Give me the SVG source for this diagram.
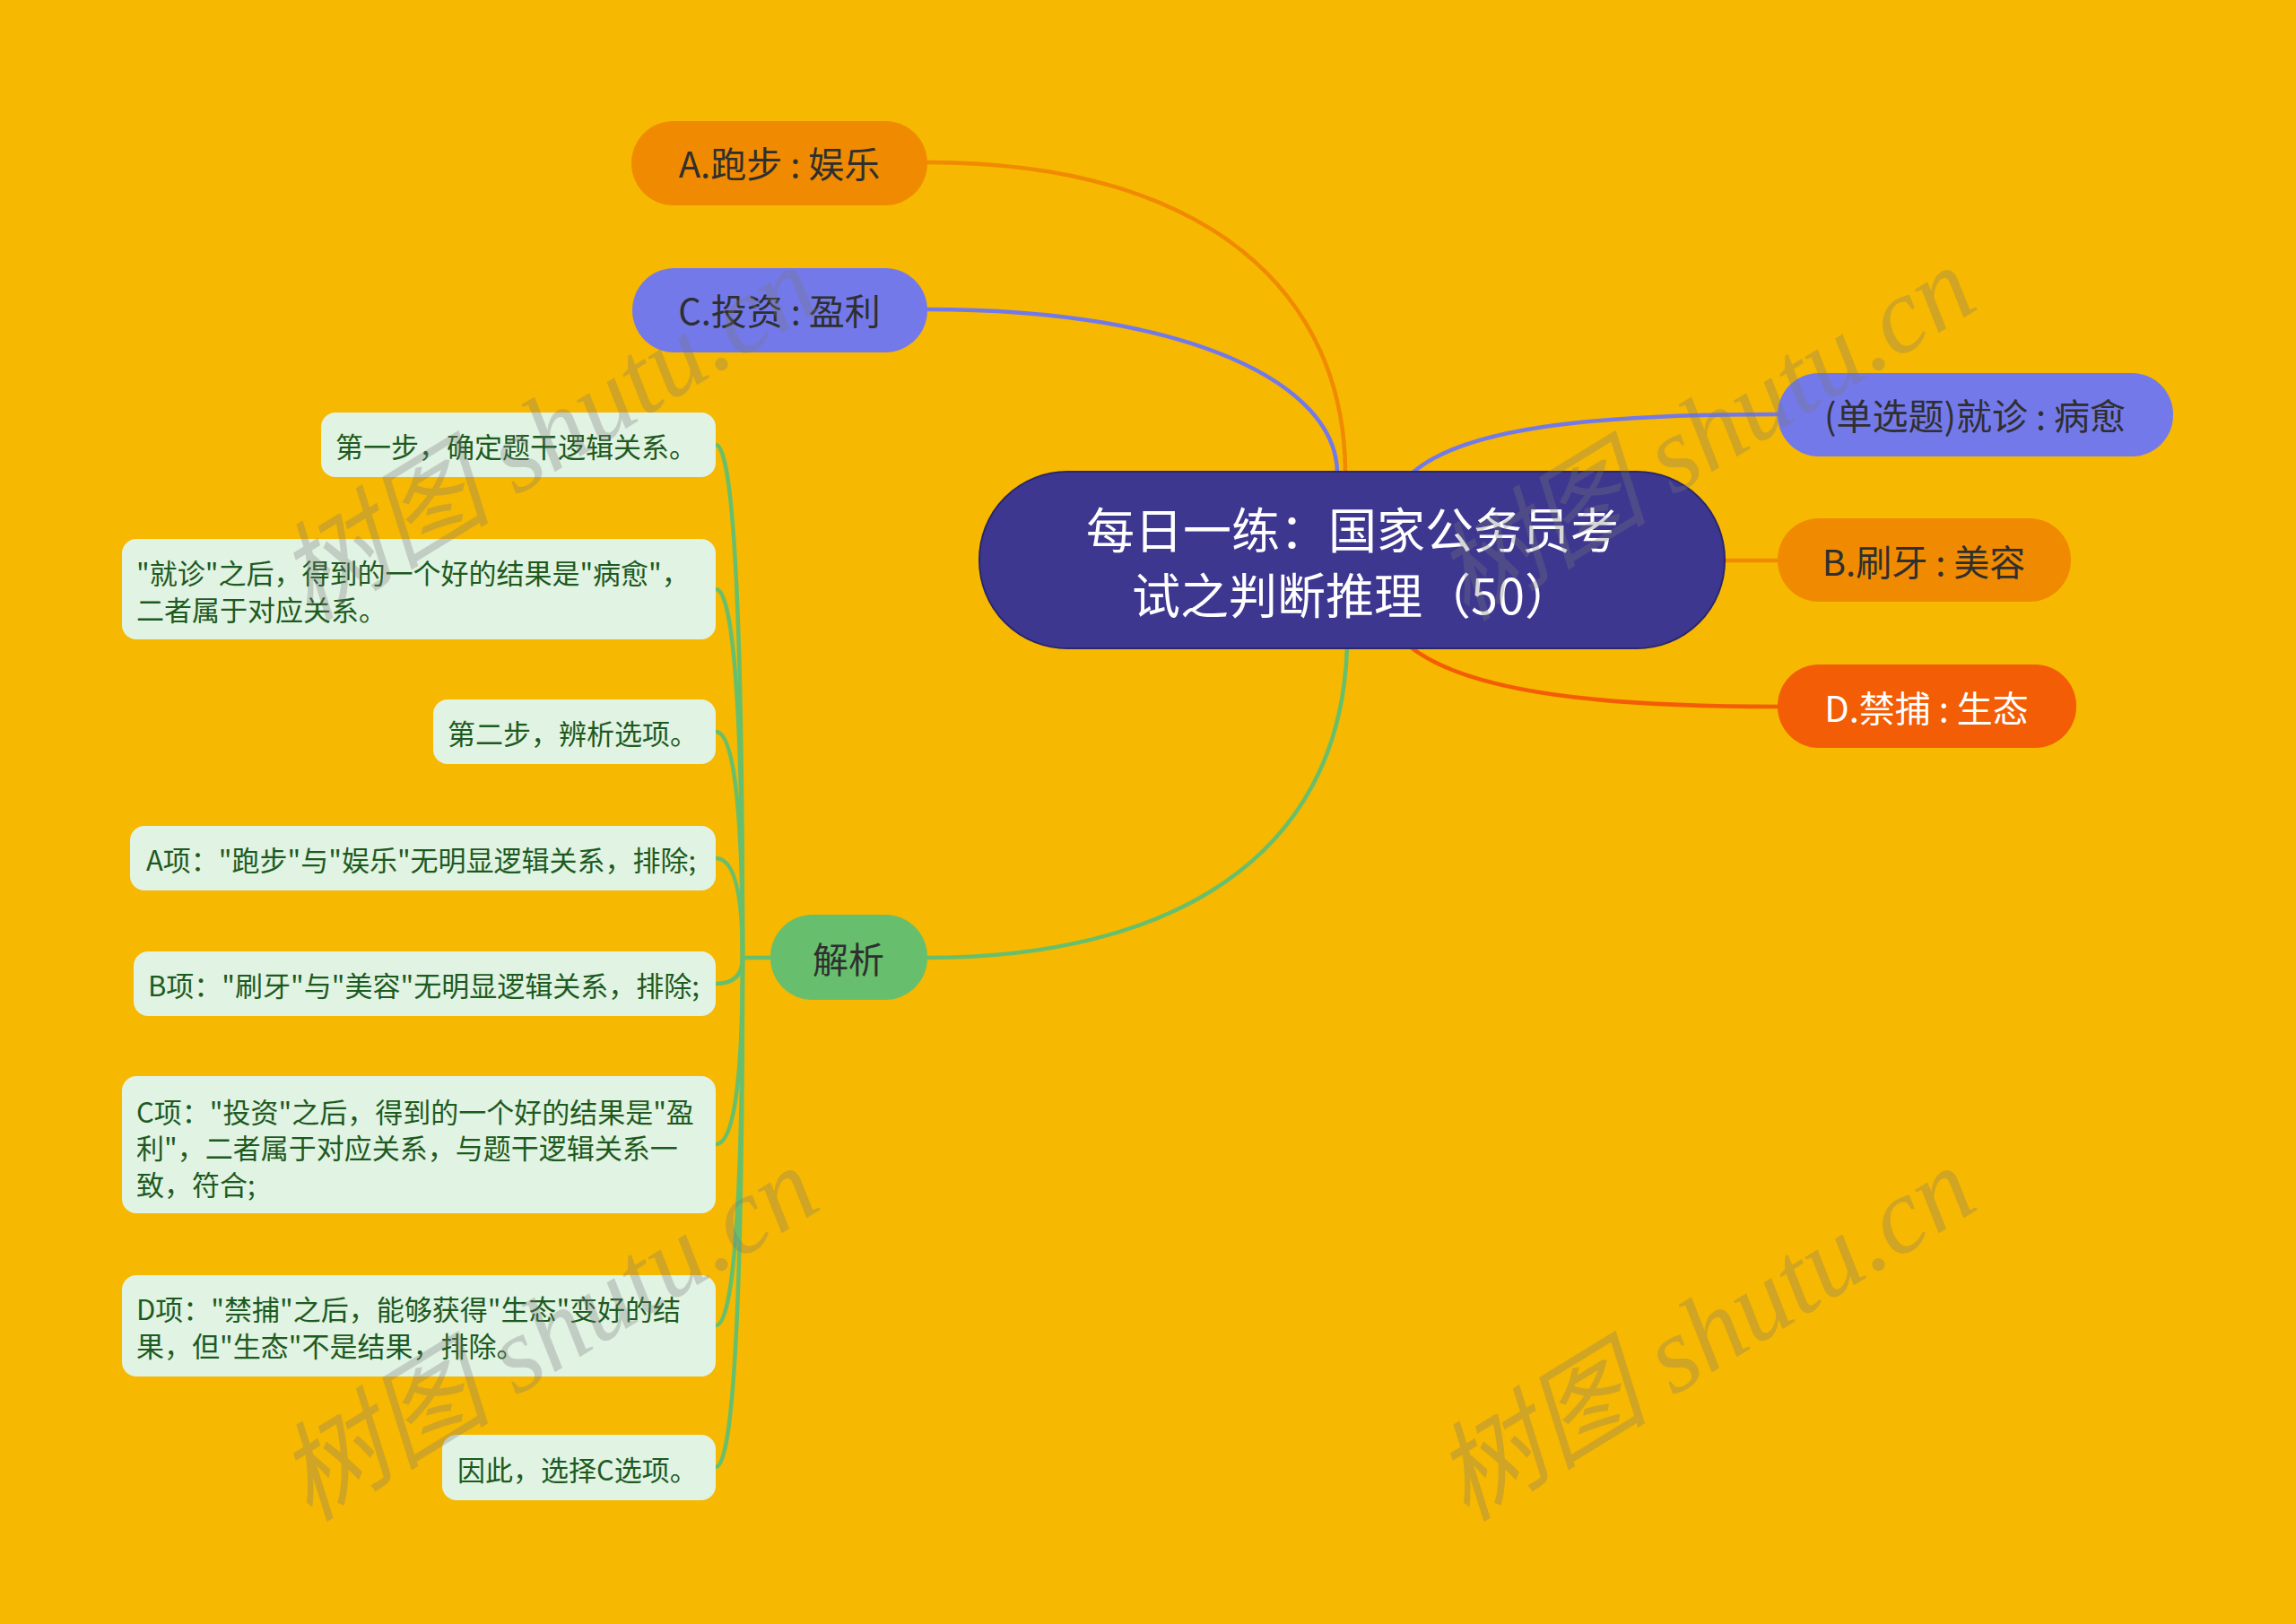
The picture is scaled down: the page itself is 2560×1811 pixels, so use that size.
<svg xmlns="http://www.w3.org/2000/svg" width="2560" height="1811" viewBox="0 0 2560 1811">
<style>
.t{font-family:"Noto Sans CJK SC","Noto Sans",sans-serif;text-anchor:middle;dominant-baseline:central}
.top{font-size:40px;fill:#2f2f2f}
.leaf rect{fill:#e1f3e2}
.leaf text{font-family:"Noto Sans CJK SC","Noto Sans",sans-serif;font-size:31px;fill:#1d5a1f;dominant-baseline:central}
.c{fill:none;stroke-width:4.5;stroke-linecap:round}
.wm{font-family:"Liberation Serif","Noto Sans CJK SC",serif;font-style:italic;font-size:120px;fill:#787878;fill-opacity:0.3}
</style>
<rect x="0" y="0" width="2560" height="1811" fill="#f6b800"/>
<g id="connectors">
<path class="c" stroke="#f08a00" d="M1034,181 C1350,181 1500,330 1500,528"/>
<path class="c" stroke="#7479ea" d="M1034,345 C1330,345 1491,430 1491,528"/>
<path class="c" stroke="#7479ea" d="M1574,528 C1630,478 1770,462 1982,462"/>
<path class="c" stroke="#f08a00" d="M1923,625 L1982,625"/>
<path class="c" stroke="#f25d06" d="M1572,721 C1640,775 1800,788 1982,788"/>
<path class="c" stroke="#67bf6d" d="M1502,721 C1495,960 1300,1068 1034,1068"/>
<g stroke="#67bf6d" class="c">
<path class="c" stroke="#67bf6d" d="M859,1068 L828,1068"/>
<path class="c" stroke="#67bf6d" d="M828,1068 Q828,496 798,496"/>
<path class="c" stroke="#67bf6d" d="M828,1068 Q828,657 798,657"/>
<path class="c" stroke="#67bf6d" d="M828,1068 Q828,816 798,816"/>
<path class="c" stroke="#67bf6d" d="M828,1068 Q828,957 798,957"/>
<path class="c" stroke="#67bf6d" d="M828,1068 Q828,1097 798,1097"/>
<path class="c" stroke="#67bf6d" d="M828,1068 Q828,1276 798,1276"/>
<path class="c" stroke="#67bf6d" d="M828,1068 Q828,1478 798,1478"/>
<path class="c" stroke="#67bf6d" d="M828,1068 Q828,1636 798,1636"/>
</g>
</g>
<g id="center">
<rect x="1092" y="526" width="831" height="197" rx="98" fill="#3e3790" stroke="#2b276b" stroke-width="2"/>
<text class="t" x="1508" y="588" font-size="54" fill="#ffffff">每日一练：国家公务员考</text>
<text class="t" x="1508" y="661" font-size="54" fill="#ffffff">试之判断推理（50）</text>
</g>
<g id="nodeA">
<rect x="704" y="135" width="330" height="94" rx="47" fill="#f08a00"/>
<text class="t top" x="869" y="181">A.跑步 : 娱乐</text>
</g>
<g id="nodeC">
<rect x="705" y="299" width="329" height="94" rx="47" fill="#7479ea"/>
<text class="t top" x="869" y="345">C.投资 : 盈利</text>
</g>
<g id="nodeQ">
<rect x="1982" y="416" width="441" height="93" rx="46" fill="#7479ea"/>
<text class="t top" x="2202" y="462">(单选题)就诊 : 病愈</text>
</g>
<g id="nodeB">
<rect x="1982" y="578" width="327" height="93" rx="46" fill="#f08a00"/>
<text class="t top" x="2145" y="625">B.刷牙 : 美容</text>
</g>
<g id="nodeD">
<rect x="1982" y="741" width="333" height="93" rx="46" fill="#f25d06"/>
<text class="t top" x="2148" y="788" style="fill:#ffffff">D.禁捕 : 生态</text>
</g>
<g id="nodeJiexi">
<rect x="859" y="1020" width="175" height="95" rx="47" fill="#67bf6d"/>
<text class="t top" x="946" y="1068">解析</text>
</g>
<g id="leaf1" class="leaf">
<rect x="358" y="460" width="440" height="72" rx="16"/>
<text x="374" y="496">第一步，确定题干逻辑关系。</text>
</g>
<g id="leaf2" class="leaf">
<rect x="136" y="601" width="662" height="112" rx="16"/>
<text x="152" y="637">"就诊"之后，得到的一个好的结果是"病愈"，</text>
<text x="152" y="678">二者属于对应关系。</text>
</g>
<g id="leaf3" class="leaf">
<rect x="483" y="780" width="315" height="72" rx="16"/>
<text x="499" y="816">第二步，辨析选项。</text>
</g>
<g id="leaf4" class="leaf">
<rect x="145" y="921" width="653" height="72" rx="16"/>
<text x="163" y="957">A项："跑步"与"娱乐"无明显逻辑关系，排除;</text>
</g>
<g id="leaf5" class="leaf">
<rect x="149" y="1061" width="649" height="72" rx="16"/>
<text x="165" y="1097">B项："刷牙"与"美容"无明显逻辑关系，排除;</text>
</g>
<g id="leaf6" class="leaf">
<rect x="136" y="1200" width="662" height="153" rx="16"/>
<text x="152" y="1238">C项："投资"之后，得到的一个好的结果是"盈</text>
<text x="152" y="1278">利"，二者属于对应关系，与题干逻辑关系一</text>
<text x="152" y="1319">致，符合;</text>
</g>
<g id="leaf7" class="leaf">
<rect x="136" y="1422" width="662" height="113" rx="16"/>
<text x="152" y="1458">D项："禁捕"之后，能够获得"生态"变好的结</text>
<text x="152" y="1499">果，但"生态"不是结果，排除。</text>
</g>
<g id="leaf8" class="leaf">
<rect x="493" y="1600" width="305" height="73" rx="16"/>
<text x="510" y="1637">因此，选择C选项。</text>
</g>
<g id="watermarks">
<text class="wm" x="345" y="694" transform="rotate(-31.5 345 694)">树图 shutu.cn</text>
<text class="wm" x="1635" y="694" transform="rotate(-31.5 1635 694)">树图 shutu.cn</text>
<text class="wm" x="345" y="1698" transform="rotate(-31.5 345 1698)">树图 shutu.cn</text>
<text class="wm" x="1635" y="1698" transform="rotate(-31.5 1635 1698)">树图 shutu.cn</text>
</g>
</svg>
